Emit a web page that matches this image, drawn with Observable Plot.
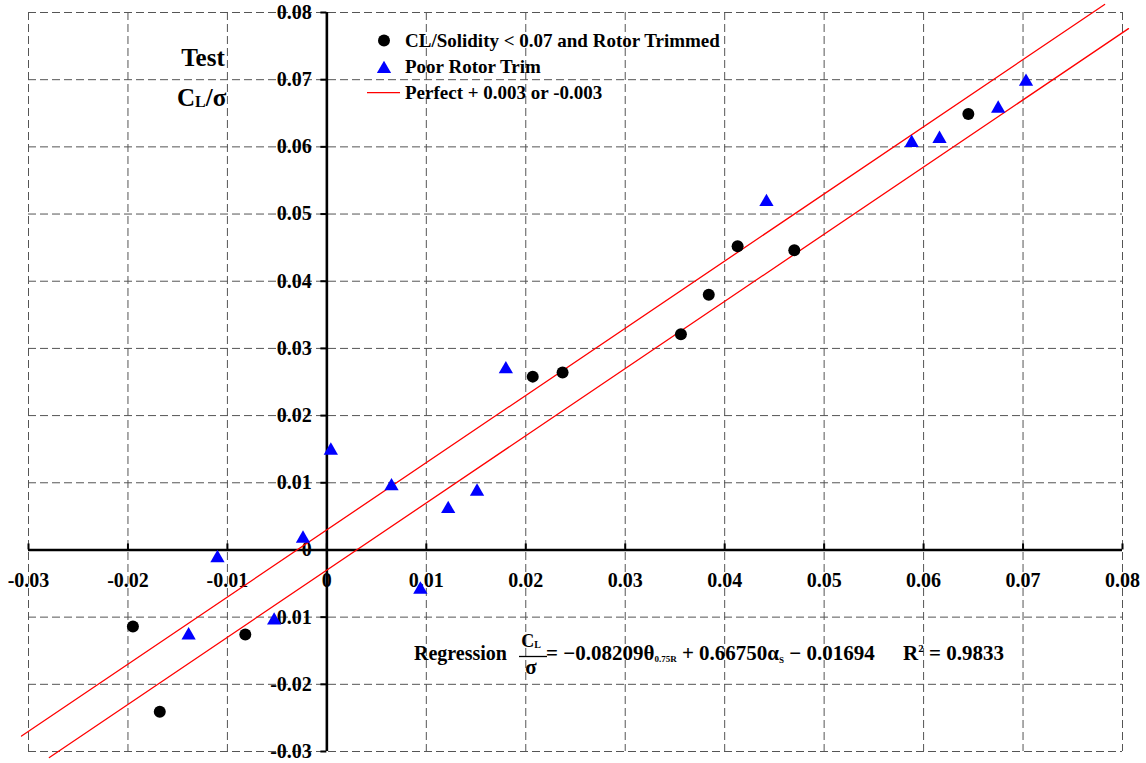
<!DOCTYPE html>
<html>
<head>
<meta charset="utf-8">
<script src="https://cdn.jsdelivr.net/npm/d3@7"></script>
<script src="https://cdn.jsdelivr.net/npm/@observablehq/plot@0.6"></script>
<style>
  html, body { margin: 0; padding: 0; background: #fff; }
  #wrap { position: relative; width: 1146px; height: 763px; }
  #overlay { position: absolute; left: 0; top: 0; pointer-events: none; }
  text { font-family: "Liberation Serif", "Times New Roman", serif; font-weight: bold; }
</style>
</head>
<body>
<div id="wrap"></div>
<script>
// ---- data ----
const xTicks = [-0.03, -0.02, -0.01, 0, 0.01, 0.02, 0.03, 0.04, 0.05, 0.06, 0.07, 0.08];
const yTicks = [-0.03, -0.02, -0.01, 0, 0.01, 0.02, 0.03, 0.04, 0.05, 0.06, 0.07, 0.08];
const xTickLabels = ["-0.03", "-0.02", "-0.01", "0", "0.01", "0.02", "0.03", "0.04", "0.05", "0.06", "0.07", "0.08"];
const yTickLabels = ["-0.03", "-0.02", "-0.01", "0", "0.01", "0.02", "0.03", "0.04", "0.05", "0.06", "0.07", "0.08"];

// CL/Solidity < 0.07 and Rotor Trimmed
const trimmedX = [-0.0195, -0.0168, -0.0082, 0.0207, 0.0237, 0.0356, 0.0384, 0.0413, 0.0470, 0.0645];
const trimmedY = [-0.0114, -0.0241, -0.0126, 0.0258, 0.0264, 0.0321, 0.0380, 0.0452, 0.0446, 0.0649];

// Poor Rotor Trim
const poorX = [-0.0139, -0.0110, -0.0053, -0.0024, 0.0004, 0.0065, 0.0094, 0.0122, 0.0151, 0.0180, 0.0442, 0.0588, 0.0616, 0.0675, 0.0703];
const poorY = [-0.0127, -0.0012, -0.0105, 0.0017, 0.0148, 0.0095, -0.0059, 0.0061, 0.0087, 0.0269, 0.0518, 0.0606, 0.0612, 0.0657, 0.0697];

// Perfect + 0.003 or -0.003 (y = x + offset)
const bandOffsets = [0.003, -0.003];
const bandXStart = [-0.0307, -0.0279];
const bandXEnd = [0.0782, 0.0806];

const legendLabels = ["CL/Solidity < 0.07 and Rotor Trimmed", "Poor Rotor Trim", "Perfect + 0.003 or -0.003"];

// ---- derived tables ----
const trimmed = trimmedX.map((x, i) => ({x, y: trimmedY[i]}));
const poor = poorX.map((x, i) => ({x, y: poorY[i]}));
const bandLines = bandOffsets.flatMap((o, k) => [
  {k, x: bandXStart[k], y: bandXStart[k] + o},
  {k, x: bandXEnd[k], y: bandXEnd[k] + o}
]);
const xt = xTicks.map((v, i) => ({v, label: xTickLabels[i]}));
const yt = yTicks.map((v, i) => ({v, label: yTickLabels[i]}));

const W = 1146, H = 763;
const font = '"Liberation Serif", "Times New Roman", serif';

const chart = Plot.plot({
  width: W,
  height: H,
  marginLeft: 28,
  marginRight: 24,
  marginTop: 12,
  marginBottom: 12,
  style: {background: "#fff", fontFamily: font, overflow: "visible"},
  x: {domain: [-0.03, 0.08], axis: null},
  y: {domain: [-0.03, 0.08], axis: null},
  marks: [
    // dashed grid
    Plot.ruleX(xTicks, {x: d => d, stroke: "#555", strokeWidth: 1, strokeDasharray: "8,4"}),
    Plot.ruleY(yTicks, {y: d => d, stroke: "#555", strokeWidth: 1, strokeDasharray: "8,4"}),
    // axes through the origin
    Plot.ruleY([0], {x1: -0.03, x2: 0.08, stroke: "#000", strokeWidth: 2.6}),
    Plot.ruleX([0], {y1: -0.03, y2: 0.08, stroke: "#000", strokeWidth: 2.6}),
    // ticks
    Plot.ruleX(xTicks, {x: d => d, y1: 0, y2: 0, insetTop: -6, stroke: "#000", strokeWidth: 2}),
    Plot.ruleY(yTicks, {y: d => d, x1: 0, x2: 0, insetLeft: -6, stroke: "#000", strokeWidth: 2}),
    // tick labels
    Plot.text(xt, {x: "v", y: 0, text: "label", dy: 31, fontSize: 20, fontWeight: "bold", fill: "#000", textAnchor: "middle"}),
    Plot.text(yt, {x: 0, y: "v", text: "label", dx: -15, fontSize: 20, fontWeight: "bold", fill: "#000", textAnchor: "end"}),
    // perfect +/- 0.003 lines
    Plot.line(bandLines, {x: "x", y: "y", z: "k", stroke: "#ff0000", strokeWidth: 1.3}),
    // data
    Plot.dot(poor, {x: "x", y: "y", symbol: "triangle", r: 5.3, fill: "#0000ff", stroke: "none"}),
    Plot.dot(trimmed, {x: "x", y: "y", r: 6, fill: "#000", stroke: "none"})
  ]
});

const wrap = document.getElementById("wrap");
wrap.appendChild(chart);

// ---- overlay: legend and annotations ----
const ns = "http://www.w3.org/2000/svg";
const ov = document.createElementNS(ns, "svg");
ov.setAttribute("id", "overlay");
ov.setAttribute("width", W);
ov.setAttribute("height", H);
ov.innerHTML = `
  <text x="203" y="66" font-size="25" text-anchor="middle">Test</text>
  <text x="177" y="106" font-size="25">C<tspan font-size="16" dy="1">L</tspan><tspan dy="-1">/σ</tspan></text>

  <circle cx="384" cy="40.5" r="6" fill="#000"></circle>
  <path d="${d3.symbol(d3.symbolTriangle, Math.PI * 5.3 * 5.3)()}" transform="translate(384,69)" fill="#0000ff"></path>
  <line x1="367" x2="400" y1="92.7" y2="92.7" stroke="#ff0000" stroke-width="1.3"></line>
  <text x="405" y="46.5" font-size="19">${legendLabels[0].replace("<", "&lt;")}</text>
  <text x="405" y="73" font-size="19">${legendLabels[1]}</text>
  <text x="405" y="98.5" font-size="19">${legendLabels[2]}</text>

  <text x="414" y="660" font-size="20">Regression</text>
  <text x="531" y="647" font-size="18" text-anchor="middle">C<tspan font-size="10" dy="1">L</tspan></text>
  <line x1="519" x2="547" y1="656.5" y2="656.5" stroke="#000" stroke-width="1.3"></line>
  <text x="531" y="674" font-size="21" text-anchor="middle">σ</text>
  <text x="546" y="660" font-size="21">= −0.08209θ<tspan font-size="9" dy="2">0.75R</tspan><tspan dy="-2"> + 0.66750α</tspan><tspan font-size="9" dy="3">S</tspan><tspan dy="-3"> − 0.01694</tspan></text>
  <text x="903" y="660" font-size="21">R<tspan font-size="11" dy="-8">2</tspan><tspan dy="8"> = 0.9833</tspan></text>
`;
wrap.appendChild(ov);
</script>
</body>
</html>
